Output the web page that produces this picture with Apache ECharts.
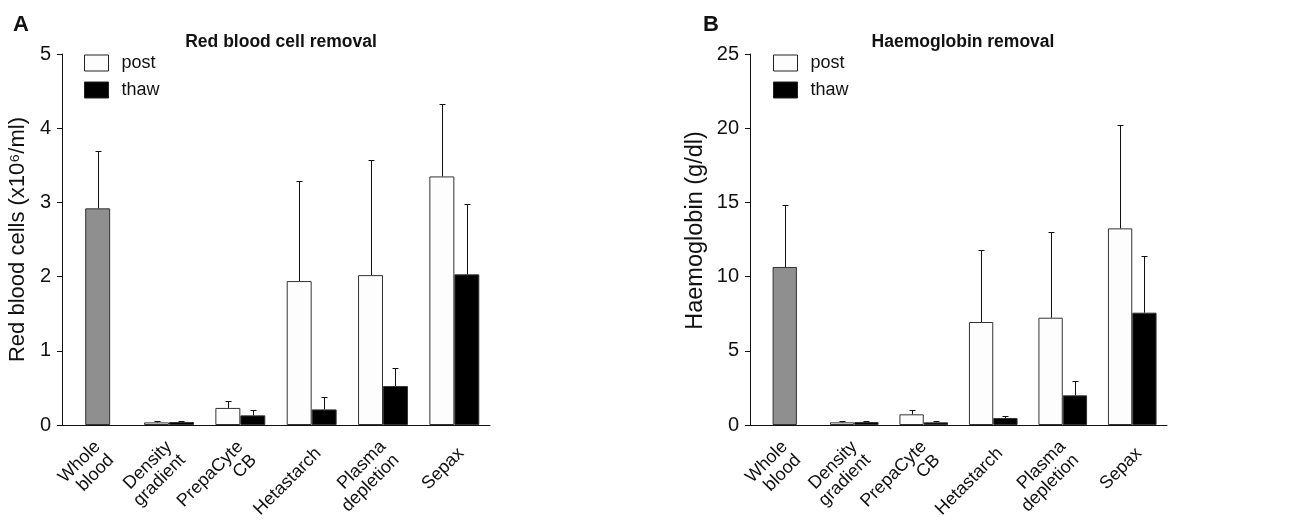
<!DOCTYPE html>
<html>
<head>
<meta charset="utf-8">
<script src="https://cdn.jsdelivr.net/npm/echarts@6/dist/echarts.min.js"></script>
<style>
html, body { margin: 0; padding: 0; background: #fff; }
#main { width: 1308px; height: 522px; }
</style>
</head>
<body>
<div id="main"></div>
<script>
var categories = ['Whole\nblood', 'Density\ngradient', 'PrepaCyte\nCB', 'Hetastarch', 'Plasma\ndepletion', 'Sepax'];

// A - red blood cells (x10^6/ml), mean and SD (upper whisker only)
var rbcWhole = [2.92, '-', '-', '-', '-', '-'];
var rbcWholeSd = [0.77, '-', '-', '-', '-', '-'];
var rbcPost = ['-', 0.035, 0.23, 1.94, 2.02, 3.35];
var rbcPostSd = ['-', 0.015, 0.09, 1.35, 1.55, 0.97];
var rbcThaw = ['-', 0.04, 0.13, 0.21, 0.525, 2.03];
var rbcThawSd = ['-', 0.02, 0.07, 0.17, 0.245, 0.95];

// B - haemoglobin (g/dl)
var hbWhole = [10.65, '-', '-', '-', '-', '-'];
var hbWholeSd = [4.2, '-', '-', '-', '-', '-'];
var hbPost = ['-', 0.18, 0.72, 6.94, 7.23, 13.25];
var hbPostSd = ['-', 0.11, 0.28, 4.83, 5.75, 6.99];
var hbThaw = ['-', 0.2, 0.18, 0.47, 2.0, 7.57];
var hbThawSd = ['-', 0.09, 0.07, 0.11, 0.98, 3.82];

var FONT = '"Liberation Sans", Arial, sans-serif';
var BAR_W = 0.35;

// build [category, mean, sd, side] rows for the whisker series
function errRows(mean, sd, side) {
	var rows = [];
	for (var i = 0; i < mean.length; i++) {
		if (mean[i] === '-') continue;
		rows.push([i, mean[i], sd[i], side]);
	}
	return rows;
}

function renderErr(params, api) {
	var cat = api.value(0);
	var top = api.value(1);
	var sd = api.value(2);
	var side = api.value(3);
	var bw = api.size([1, 0])[0] * BAR_W;
	var base = api.coord([cat, top]);
	var hi = api.coord([cat, top + sd]);
	var x = Math.round(base[0] + side * bw / 2) + 0.5;
	var yh = Math.round(hi[1]) + 0.5;
	return {
		type: 'group',
		children: [{
			type: 'line',
			shape: { x1: x, y1: base[1], x2: x, y2: yh },
			style: { stroke: '#111', lineWidth: 1 }
		}, {
			type: 'line',
			shape: { x1: x - 3, y1: yh, x2: x + 3, y2: yh },
			style: { stroke: '#111', lineWidth: 1 }
		}]
	};
}

function catAxis(grid) {
	return {
		type: 'category',
		gridIndex: grid,
		data: categories,
		axisLine: { lineStyle: { color: '#111', width: 1 } },
		axisTick: { length: 8, lineStyle: { color: '#111' } },
		axisLabel: {
			rotate: 45, interval: 0, fontSize: 18, color: '#111', margin: 19, fontFamily: FONT, lineHeight: 19,
			// blank first line nudges the rotated text down-right a little
			formatter: function (v) { return '\n' + v; }
		}
	};
}
function hiddenAxis(grid) {
	return { type: 'category', gridIndex: grid, data: categories, show: false };
}
function valAxis(grid, max, step, name, gap, nameSize, namePad) {
	return {
		type: 'value',
		gridIndex: grid,
		min: 0, max: max, interval: step,
		name: name,
		nameLocation: 'middle',
		nameGap: gap,
		nameTextStyle: { fontSize: nameSize, color: '#111', fontFamily: FONT, padding: namePad },
		axisLine: { show: true, lineStyle: { color: '#111', width: 1 } },
		axisTick: { show: true, length: 5, lineStyle: { color: '#111' } },
		axisLabel: { fontSize: 20, color: '#111', margin: 11, fontFamily: FONT },
		splitLine: { show: false }
	};
}

var postStyle = { color: '#fdfdfd', borderColor: '#333', borderWidth: 1 };
var thawStyle = { color: '#000', borderColor: '#333', borderWidth: 1 };
var wholeStyle = { color: '#8f8f8f', borderColor: '#333', borderWidth: 1 };

function bar(name, x, y, data, style) {
	return { name: name, type: 'bar', xAxisIndex: x, yAxisIndex: y, data: data, barWidth: BAR_W * 100 + '%', barGap: '0%', itemStyle: style, z: 2 };
}
function errSeries(x, y, rows) {
	return { type: 'custom', xAxisIndex: x, yAxisIndex: y, data: rows, renderItem: renderErr, z: 5, silent: true };
}
function legendAt(left) {
	return {
		left: left, top: 49, orient: 'vertical', itemWidth: 24, itemHeight: 16, itemGap: 9,
		textStyle: { fontSize: 18, color: '#111', fontFamily: FONT, padding: [0, 0, 0, 8] },
		data: [
			{ name: 'post', icon: 'rect', itemStyle: { color: '#fdfdfd', borderColor: '#222', borderWidth: 1 } },
			{ name: 'thaw', icon: 'rect', itemStyle: { color: '#000', borderColor: '#222', borderWidth: 1 } }
		]
	};
}

var myChart = echarts.init(document.getElementById('main'));

var option = {
	animation: false,
	textStyle: { fontFamily: FONT },
	title: [
		{ text: 'A', left: 8, top: 9, textStyle: { fontSize: 22, fontWeight: 'bold', color: '#111', fontFamily: FONT } },
		{ text: 'B', left: 698, top: 9, textStyle: { fontSize: 22, fontWeight: 'bold', color: '#111', fontFamily: FONT } },
		{ text: 'Red blood cell removal', left: 276, top: 28, textAlign: 'center', textStyle: { fontSize: 17.5, fontWeight: 'bold', color: '#111', fontFamily: FONT } },
		{ text: 'Haemoglobin removal', left: 958, top: 28, textAlign: 'center', textStyle: { fontSize: 17.5, fontWeight: 'bold', color: '#111', fontFamily: FONT } }
	],
	legend: [legendAt(79), legendAt(768)],
	grid: [
		{ left: 62, width: 428, top: 54, height: 371, outerBoundsMode: 'none', containLabel: false },
		{ left: 750, width: 417, top: 54, height: 371, outerBoundsMode: 'none', containLabel: false }
	],
	xAxis: [catAxis(0), hiddenAxis(0), catAxis(1), hiddenAxis(1)],
	yAxis: [
		valAxis(0, 5, 1, 'Red blood cells (x10\u2076/ml)', 33, 22, 0),
		valAxis(1, 25, 5, 'Haemoglobin (g/dl)', 42, 23.5, [0, 0, 0, 18])
	],
	series: [
		bar('post', 0, 0, rbcPost, postStyle),
		bar('thaw', 0, 0, rbcThaw, thawStyle),
		bar('whole', 1, 0, rbcWhole, wholeStyle),
		errSeries(0, 0, errRows(rbcPost, rbcPostSd, -1)),
		errSeries(0, 0, errRows(rbcThaw, rbcThawSd, 1)),
		errSeries(0, 0, errRows(rbcWhole, rbcWholeSd, 0)),
		bar('post', 2, 1, hbPost, postStyle),
		bar('thaw', 2, 1, hbThaw, thawStyle),
		bar('whole', 3, 1, hbWhole, wholeStyle),
		errSeries(2, 1, errRows(hbPost, hbPostSd, -1)),
		errSeries(2, 1, errRows(hbThaw, hbThawSd, 1)),
		errSeries(2, 1, errRows(hbWhole, hbWholeSd, 0))
	]
};

myChart.setOption(option);
</script>
</body>
</html>
